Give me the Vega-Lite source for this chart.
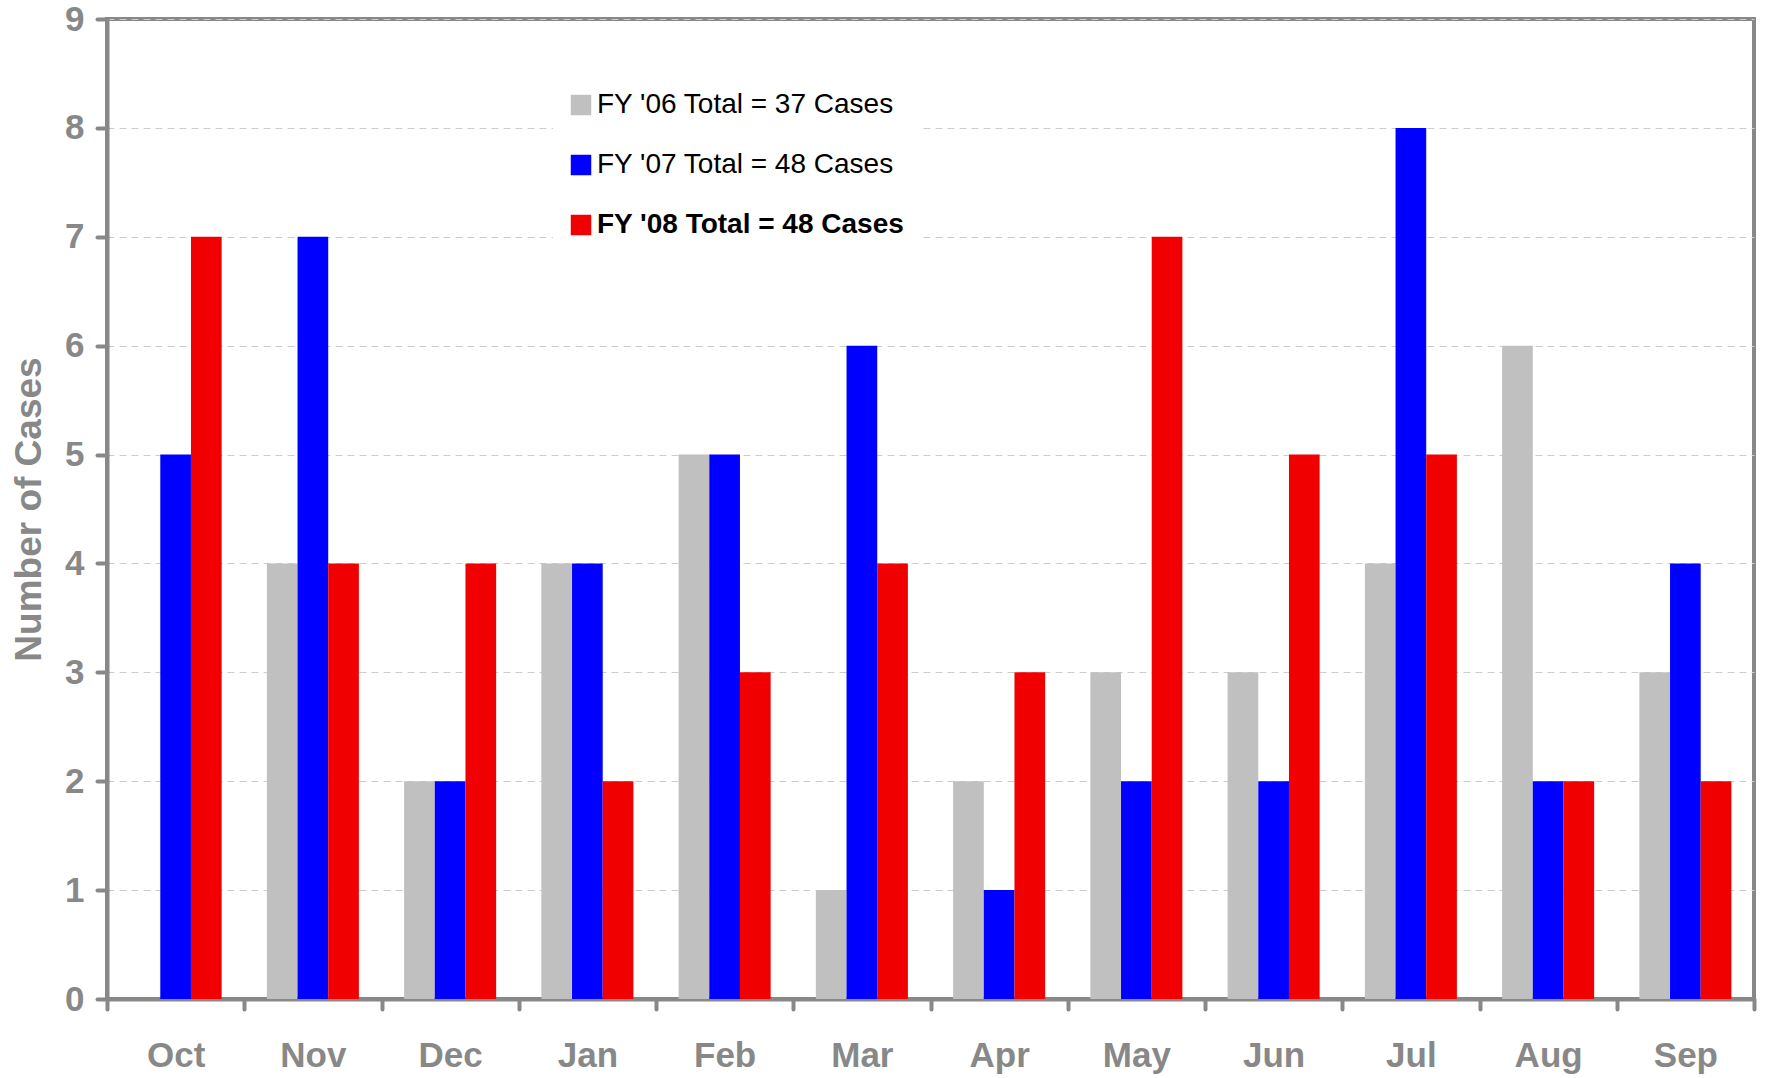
{
  "$schema": "https://vega.github.io/schema/vega-lite/v6.json",
  "width": 1647,
  "height": 980,
  "autosize": "none",
  "padding": {"left": 107, "top": 19, "right": 11, "bottom": 79},
  "background": "white",
  "config": {
    "font": "Liberation Sans",
    "view": {"stroke": "#888888", "strokeWidth": 4}
  },
  "data": {
    "values": [
      {"month": "Oct", "fy": "FY '06 Total = 37 Cases", "cases": 0},
      {"month": "Oct", "fy": "FY '07 Total = 48 Cases", "cases": 5},
      {"month": "Oct", "fy": "FY '08 Total = 48 Cases", "cases": 7},
      {"month": "Nov", "fy": "FY '06 Total = 37 Cases", "cases": 4},
      {"month": "Nov", "fy": "FY '07 Total = 48 Cases", "cases": 7},
      {"month": "Nov", "fy": "FY '08 Total = 48 Cases", "cases": 4},
      {"month": "Dec", "fy": "FY '06 Total = 37 Cases", "cases": 2},
      {"month": "Dec", "fy": "FY '07 Total = 48 Cases", "cases": 2},
      {"month": "Dec", "fy": "FY '08 Total = 48 Cases", "cases": 4},
      {"month": "Jan", "fy": "FY '06 Total = 37 Cases", "cases": 4},
      {"month": "Jan", "fy": "FY '07 Total = 48 Cases", "cases": 4},
      {"month": "Jan", "fy": "FY '08 Total = 48 Cases", "cases": 2},
      {"month": "Feb", "fy": "FY '06 Total = 37 Cases", "cases": 5},
      {"month": "Feb", "fy": "FY '07 Total = 48 Cases", "cases": 5},
      {"month": "Feb", "fy": "FY '08 Total = 48 Cases", "cases": 3},
      {"month": "Mar", "fy": "FY '06 Total = 37 Cases", "cases": 1},
      {"month": "Mar", "fy": "FY '07 Total = 48 Cases", "cases": 6},
      {"month": "Mar", "fy": "FY '08 Total = 48 Cases", "cases": 4},
      {"month": "Apr", "fy": "FY '06 Total = 37 Cases", "cases": 2},
      {"month": "Apr", "fy": "FY '07 Total = 48 Cases", "cases": 1},
      {"month": "Apr", "fy": "FY '08 Total = 48 Cases", "cases": 3},
      {"month": "May", "fy": "FY '06 Total = 37 Cases", "cases": 3},
      {"month": "May", "fy": "FY '07 Total = 48 Cases", "cases": 2},
      {"month": "May", "fy": "FY '08 Total = 48 Cases", "cases": 7},
      {"month": "Jun", "fy": "FY '06 Total = 37 Cases", "cases": 3},
      {"month": "Jun", "fy": "FY '07 Total = 48 Cases", "cases": 2},
      {"month": "Jun", "fy": "FY '08 Total = 48 Cases", "cases": 5},
      {"month": "Jul", "fy": "FY '06 Total = 37 Cases", "cases": 4},
      {"month": "Jul", "fy": "FY '07 Total = 48 Cases", "cases": 8},
      {"month": "Jul", "fy": "FY '08 Total = 48 Cases", "cases": 5},
      {"month": "Aug", "fy": "FY '06 Total = 37 Cases", "cases": 6},
      {"month": "Aug", "fy": "FY '07 Total = 48 Cases", "cases": 2},
      {"month": "Aug", "fy": "FY '08 Total = 48 Cases", "cases": 2},
      {"month": "Sep", "fy": "FY '06 Total = 37 Cases", "cases": 3},
      {"month": "Sep", "fy": "FY '07 Total = 48 Cases", "cases": 4},
      {"month": "Sep", "fy": "FY '08 Total = 48 Cases", "cases": 2}
    ]
  },
  "mark": {"type": "bar"},
  "encoding": {
    "x": {
      "field": "month",
      "type": "nominal",
      "sort": ["Oct", "Nov", "Dec", "Jan", "Feb", "Mar", "Apr", "May", "Jun", "Jul", "Aug", "Sep"],
      "scale": {"paddingInner": 0, "paddingOuter": 0},
      "axis": {
        "title": null,
        "labelAngle": 0,
        "tickBand": "extent",
        "domainColor": "#888888",
        "domainWidth": 4,
        "tickColor": "#888888",
        "tickWidth": 4,
        "tickSize": 10,
        "tickCap": "round",
        "labelFont": "Liberation Sans",
        "labelFontSize": 35,
        "labelFontWeight": "bold",
        "labelColor": "#888888",
        "labelPadding": 29,
        "grid": false
      }
    },
    "xOffset": {
      "field": "fy",
      "type": "nominal",
      "scale": {"paddingInner": 0, "paddingOuter": 0.737}
    },
    "y": {
      "field": "cases",
      "type": "quantitative",
      "scale": {"domain": [0, 9], "nice": false},
      "axis": {
        "title": "Number of Cases",
        "titleFont": "Liberation Sans",
        "titleFontSize": 37,
        "titleFontWeight": "bold",
        "titleColor": "#888888",
        "titlePadding": 16,
        "values": [0, 1, 2, 3, 4, 5, 6, 7, 8, 9],
        "domainColor": "#888888",
        "domainWidth": 4,
        "tickColor": "#888888",
        "tickWidth": 4,
        "tickSize": 10,
        "tickCap": "round",
        "labelFont": "Liberation Sans",
        "labelFontSize": 35,
        "labelFontWeight": "bold",
        "labelColor": "#888888",
        "labelPadding": 13,
        "grid": true,
        "gridColor": "#cccccc",
        "gridWidth": 1,
        "gridDash": [7, 5]
      }
    },
    "color": {
      "field": "fy",
      "type": "nominal",
      "scale": {
        "domain": ["FY '06 Total = 37 Cases", "FY '07 Total = 48 Cases", "FY '08 Total = 48 Cases"],
        "range": ["#C0C0C0", "#0000FF", "#F00000"]
      },
      "legend": {
        "title": null,
        "orient": "none",
        "legendX": 446,
        "legendY": 58,
        "fillColor": "white",
        "padding": 14,
        "symbolType": "square",
        "symbolSize": 420,
        "symbolStrokeWidth": 0,
        "symbolOpacity": 1,
        "labelFont": "Liberation Sans",
        "labelFontSize": 28,
        "labelColor": "black",
        "labelOffset": 2,
        "labelLimit": 600,
        "rowPadding": 32,
        "encode": {
          "labels": {
            "update": {
              "fontWeight": {"signal": "indexof(datum.value, '08') >= 0 ? 'bold' : 'normal'"}
            }
          }
        }
      }
    }
  }
}
